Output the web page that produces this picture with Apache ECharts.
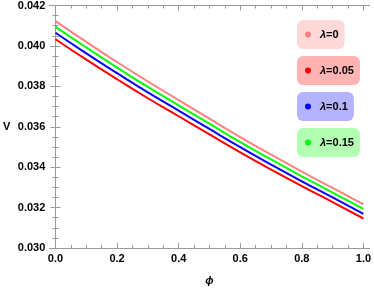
<!DOCTYPE html>
<html><head><meta charset="utf-8">
<script src="https://cdn.jsdelivr.net/npm/echarts@6/dist/echarts.min.js"></script>
<style>html,body{margin:0;padding:0;background:#fff}#c{width:374px;height:291px}</style>
</head><body><div id="c"></div>
<script>
const phi = [0, 0.1, 0.2, 0.3, 0.4, 0.5, 0.6, 0.7, 0.8, 0.9, 1.0];
const seriesNames = ['λ=0', 'λ=0.05', 'λ=0.1', 'λ=0.15'];
const vLam0    = [0.04123,0.04020,0.03920,0.03824,0.03732,0.03640,0.03549,0.03462,0.03378,0.03297,0.03216];
const vLam005  = [0.04033,0.03932,0.03835,0.03741,0.03652,0.03562,0.03473,0.03388,0.03306,0.03227,0.03146];
const vLam01   = [0.04065,0.03963,0.03865,0.03770,0.03680,0.03589,0.03499,0.03413,0.03330,0.03250,0.03169];
const vLam015  = [0.04094,0.03992,0.03893,0.03797,0.03706,0.03615,0.03524,0.03438,0.03355,0.03274,0.03194];
const xMajorTicks = [0, 0.2, 0.4, 0.6, 0.8, 1.0];
const xMinorTicks = [0.05,0.1,0.15,0.25,0.3,0.35,0.45,0.5,0.55,0.65,0.7,0.75,0.85,0.9,0.95];

const colors = ['#ff8080', '#ff0000', '#0000ff', '#00ff00'];
const boxColors = ['#ffd8d8', '#ffb3b3', '#b3b3ff', '#b3ffb3'];
const values = [vLam0, vLam005, vLam01, vLam015];
const frameColor = '#9a9a9a';
const font = 'Liberation Sans, Arial, sans-serif';

const chart = echarts.init(document.getElementById('c'));
const xBase = {type:'value', min:-0.02, max:1.02, splitLine:{show:false}};
const xAxes = [
  Object.assign({}, xBase, {position:'bottom',
    axisLine:{show:true, lineStyle:{color:frameColor, width:1}},
    axisTick:{show:true, inside:true, length:5, customValues:xMajorTicks, lineStyle:{color:frameColor}},
    axisLabel:{show:true, customValues:xMajorTicks, margin:5, color:'#000', fontSize:11, fontWeight:'bold', fontFamily:font,
      formatter:v=>v.toFixed(1)},
    name:'ϕ', nameLocation:'middle', nameGap:27,
    nameTextStyle:{fontSize:11, fontWeight:'bold', fontStyle:'italic', color:'#000', fontFamily:font}}),
  Object.assign({}, xBase, {position:'bottom', axisLine:{show:false},
    axisTick:{show:true, inside:true, length:3, customValues:xMinorTicks, lineStyle:{color:frameColor}},
    axisLabel:{show:false}}),
  Object.assign({}, xBase, {position:'top',
    axisLine:{show:true, lineStyle:{color:frameColor, width:1}},
    axisTick:{show:true, inside:true, length:5, customValues:xMajorTicks, lineStyle:{color:frameColor}},
    axisLabel:{show:false}}),
  Object.assign({}, xBase, {position:'top', axisLine:{show:false},
    axisTick:{show:true, inside:true, length:3, customValues:xMinorTicks, lineStyle:{color:frameColor}},
    axisLabel:{show:false}})
];
const yBase = {type:'value', min:0.030, max:0.042, interval:0.002, splitLine:{show:false},
  minorTick:{show:true, splitNumber:4, length:3, lineStyle:{color:frameColor}}};
const yAxes = [
  Object.assign({}, yBase, {position:'left',
    axisLine:{show:true, lineStyle:{color:frameColor}},
    axisTick:{show:true, inside:true, length:5, lineStyle:{color:frameColor}},
    axisLabel:{show:true, margin:4, color:'#000', fontSize:11, fontWeight:'bold', fontFamily:font,
      formatter:v=>v.toFixed(3)},
    name:'V', nameLocation:'middle', nameRotate:0, nameGap:39,
    nameTextStyle:{fontSize:11, fontWeight:'bold', color:'#000', fontFamily:font}}),
  Object.assign({}, yBase, {position:'right',
    axisLine:{show:true, lineStyle:{color:frameColor}},
    axisTick:{show:true, inside:true, length:5, lineStyle:{color:frameColor}},
    axisLabel:{show:false}})
];
const legendTops = [20, 56, 92, 128];
const legends = seriesNames.map((n, i) => ({
  left: 297, top: legendTops[i], orient:'vertical', selectedMode:false,
  data:[n], icon:'circle', itemWidth:6, itemHeight:6,
  backgroundColor: boxColors[i], borderRadius:6, padding:[9,6,9,8],
  textStyle:{padding:[0,0,0,4], fontSize:11, fontWeight:'bold', color:'#000', fontFamily:font,
    rich:{i:{fontStyle:'italic', fontWeight:'bold', fontSize:11, color:'#000', fontFamily:font},
          b:{fontWeight:'bold', fontSize:11, color:'#000', fontFamily:font}}},
  formatter: name => '{i|λ}{b|' + name.slice(1) + '}'
}));
chart.setOption({
  animation:false,
  grid:{left:46, right:3, top:5, bottom:40, containLabel:false},
  xAxis:xAxes, yAxis:yAxes,
  legend:legends,
  series: seriesNames.map((n, i) => ({
    name:n, type:'line', xAxisIndex:0, yAxisIndex:0, smooth:true, showSymbol:false,
    symbol:'circle', color:colors[i],
    lineStyle:{width:2, color:colors[i]},
    data: phi.map((x, k) => [x, values[i][k]])
  }))
});
</script></body></html>
